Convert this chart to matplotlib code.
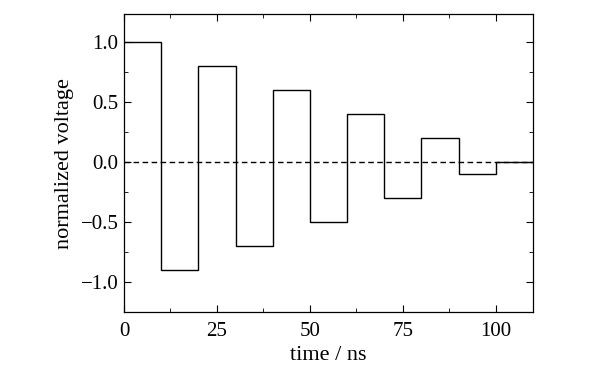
import matplotlib.pyplot as plt
import numpy as np
from matplotlib.ticker import MultipleLocator

# step edges (ns) and normalized voltage for each 10 ns segment
edges = [0, 10, 20, 30, 40, 50, 60, 70, 80, 90, 100, 110]
voltage = [1.0, -0.9, 0.8, -0.7, 0.6, -0.5, 0.4, -0.3, 0.2, -0.1, 0.0]
yticks = [-1.0, -0.5, 0.0, 0.5, 1.0]
ylabels = ['\u22121.0', '\u22120.5', '0.0', '0.5', '1.0']

plt.rcParams['font.family'] = ['Liberation Serif', 'DejaVu Serif']
plt.rcParams['font.size'] = 15

fig = plt.figure(figsize=(5.91, 3.72), dpi=100)
ax = fig.add_axes([0.2098, 0.161, 0.692, 0.801])

ax.stairs(voltage, edges, color='black', lw=1.0, baseline=None)
ax.axhline(0, color='black', lw=1.0, ls=(0, (4, 2.5)), zorder=0)

ax.set_xlim(0, 110)
ax.set_ylim(-1.25, 1.235)
ax.xaxis.set_major_locator(MultipleLocator(25))
ax.xaxis.set_minor_locator(MultipleLocator(12.5))
ax.yaxis.set_minor_locator(MultipleLocator(0.25))
ax.set_yticks(yticks)
ax.set_yticklabels(ylabels)
ax.tick_params(which='both', direction='in', top=True, right=True)
ax.tick_params(which='major', length=5, pad=4)
ax.tick_params(axis='x', which='major', pad=7)
ax.tick_params(which='minor', length=3)
for s in ax.spines.values():
    s.set_linewidth(0.9)

ax.set_xlabel('time / ns', fontsize=16, labelpad=4)
ax.set_ylabel('normalized voltage', fontsize=16, labelpad=5)

fig.savefig('out.png', dpi=100)
